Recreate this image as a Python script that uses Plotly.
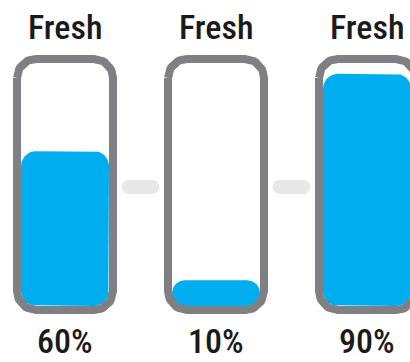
import math
import plotly.graph_objects as go

# ---- data ----
categories = ["Fresh", "Fresh", "Fresh"]
values = [60, 10, 90]
value_labels = ["60%", "10%", "90%"]

# ---- layout constants (pixel-like data units) ----
W, H = 410, 362
centers = [65, 216, 367]
tube_half = 48          # border centerline half-width
tube_top, tube_bot = 59, 310
tube_r = 19
border_w = 8
fill_half = 44
fill_bottom = 306
fill_cap = 258          # data units for 100 %
fill_r = 15
BLUE = "#00AEEF"
GRAY = "#808084"
PILL = "#E8E8E8"
FONT = "'Roboto Condensed', 'DejaVu Sans Condensed', 'Liberation Sans Narrow', Roboto, sans-serif"


def rrect(x0, x1, y0, y1, r, n=16):
    r = min(r, (x1 - x0) / 2, (y1 - y0) / 2)
    xs, ys = [], []
    corners = [
        (x0 + r, y0 + r, 180, 270),
        (x1 - r, y0 + r, 270, 360),
        (x1 - r, y1 - r, 0, 90),
        (x0 + r, y1 - r, 90, 180),
    ]
    for cx, cy, a0, a1 in corners:
        for i in range(n + 1):
            a = math.radians(a0 + (a1 - a0) * i / n)
            xs.append(cx + r * math.cos(a))
            ys.append(cy + r * math.sin(a))
    xs.append(xs[0])
    ys.append(ys[0])
    return xs, ys


fig = go.Figure()

# connectors between tubes
for i in range(len(centers) - 1):
    mid = (centers[i] + centers[i + 1]) / 2
    xs, ys = rrect(mid - 19, mid + 19, 180, 194, 7)
    fig.add_trace(go.Scatter(x=xs, y=ys, mode="lines", fill="toself",
                             fillcolor=PILL, line=dict(width=0, color=PILL),
                             hoverinfo="skip", showlegend=False))

for cx, v in zip(centers, values):
    top = fill_bottom - v / 100 * fill_cap
    xs, ys = rrect(cx - fill_half, cx + fill_half, top, fill_bottom, fill_r)
    fig.add_trace(go.Scatter(x=xs, y=ys, mode="lines", fill="toself",
                             fillcolor=BLUE, line=dict(width=0, color=BLUE),
                             hoverinfo="skip", showlegend=False))
    xs, ys = rrect(cx - tube_half, cx + tube_half, tube_top, tube_bot, tube_r)
    fig.add_trace(go.Scatter(x=xs, y=ys, mode="lines",
                             line=dict(width=border_w, color=GRAY),
                             hoverinfo="skip", showlegend=False))

for cx, cat, lab in zip(centers, categories, value_labels):
    fig.add_annotation(x=cx, y=27, text=cat, showarrow=False,
                       xanchor="center", yanchor="middle",
                       font=dict(family=FONT, size=34, color="#1a1a1a", weight=500))
    fig.add_annotation(x=cx, y=H, text=lab, showarrow=False,
                       xanchor="center", yanchor="bottom", borderpad=0,
                       font=dict(family=FONT, size=34, color="#1a1a1a", weight=500))

fig.update_layout(
    width=W, height=H,
    margin=dict(l=0, r=0, t=0, b=0),
    paper_bgcolor="white", plot_bgcolor="white",
    xaxis=dict(range=[0, W], visible=False, fixedrange=True),
    yaxis=dict(range=[H, 0], visible=False, fixedrange=True),
    showlegend=False,
)

fig.write_html("out.html", config={"displayModeBar": False},
               post_script="document.body.style.margin='0';document.body.style.overflow='hidden';")
